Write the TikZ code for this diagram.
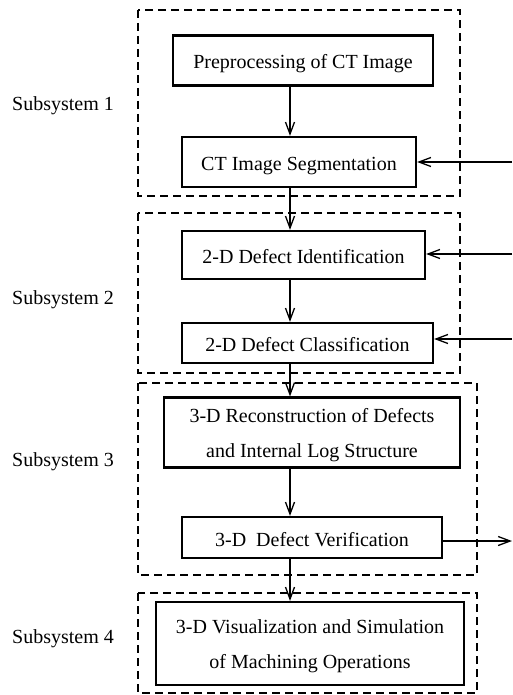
\documentclass[tikz,border=0pt]{standalone}
\usepackage{fontspec}
\setmainfont{Liberation Serif}
\usetikzlibrary{arrows.meta}
\begin{document}
\begin{tikzpicture}[x=1pt,y=-1pt,
  box/.style={draw, line width=2.2pt, rectangle, inner sep=0pt,
    font=\fontsize{20}{35}\selectfont},
  onebox/.style={box, text height=21pt, text depth=4pt},
  dbox/.style={draw, line width=1.3pt, dash pattern=on 8pt off 5pt},
  arr/.style={line width=1.5pt, -{Straight Barb[length=12pt,width=9pt,line width=1.3pt]}},
  lab/.style={anchor=base west, inner sep=0pt, font=\fontsize{20}{24}\selectfont}]
\useasboundingbox (0,0) rectangle (512,695);
% subsystem frames
\draw[dbox] (138,10) rectangle (460,196);
\draw[dbox] (138,213) rectangle (460,373);
\draw[dbox] (138,383) rectangle (477,575);
\draw[dbox] (138,593) rectangle (477,693);
% labels
\node[lab] (l1) at (12,111) {Subsystem 1};
\node[lab] (l2) at (12,304) {Subsystem 2};
\node[lab] (l3) at (12,466) {Subsystem 3};
\node[lab] (l4) at (12,643) {Subsystem 4};
% boxes
\node[onebox, minimum width=260pt, minimum height=50pt] (pre) at (303,60.5) {Preprocessing of CT Image};
\node[onebox, minimum width=234pt, minimum height=50pt] (seg) at (299,162) {CT Image Segmentation};
\node[onebox, minimum width=243pt, minimum height=48pt] (id) at (303.5,255) {2-D Defect Identification};
\node[onebox, minimum width=251pt, minimum height=40pt] (cls) at (307.5,343) {2-D Defect Classification};
\node[box, minimum width=296pt, minimum height=67pt] (rec) at (312,432.5) {\begin{tabular}{@{}c@{}}3-D Reconstruction of Defects\\and Internal Log Structure\end{tabular}};
\node[onebox, minimum width=260pt, minimum height=41pt] (ver) at (312,537.5) {3-D\ \ Defect Verification};
\node[box, minimum width=308pt, minimum height=83pt] (vis) at (310,643.5) {\begin{tabular}{@{}c@{}}3-D Visualization and Simulation\\of Machining Operations\end{tabular}};
% vertical flow
\coordinate (ax) at (290,0);
\draw[arr] (pre.south -| ax) -- (seg.north -| ax);
\draw[arr] (seg.south -| ax) -- (id.north -| ax);
\draw[arr] (id.south -| ax) -- (cls.north -| ax);
\draw[arr] (cls.south -| ax) -- (rec.north -| ax);
\draw[arr] (rec.south -| ax) -- (ver.north -| ax);
\draw[arr] (ver.south -| ax) -- (vis.north -| ax);
% side inputs / output
\coordinate (in1) at (512,162);
\coordinate (in2) at (512,254);
\coordinate (in3) at (512,339);
\coordinate (out1) at (512,541);
\draw[arr] (in1) -- (in1 -| seg.east);
\draw[arr] (in2) -- (in2 -| id.east);
\draw[arr] (in3) -- (in3 -| cls.east);
\draw[arr] (out1 -| ver.east) -- (out1);
\end{tikzpicture}
\end{document}
